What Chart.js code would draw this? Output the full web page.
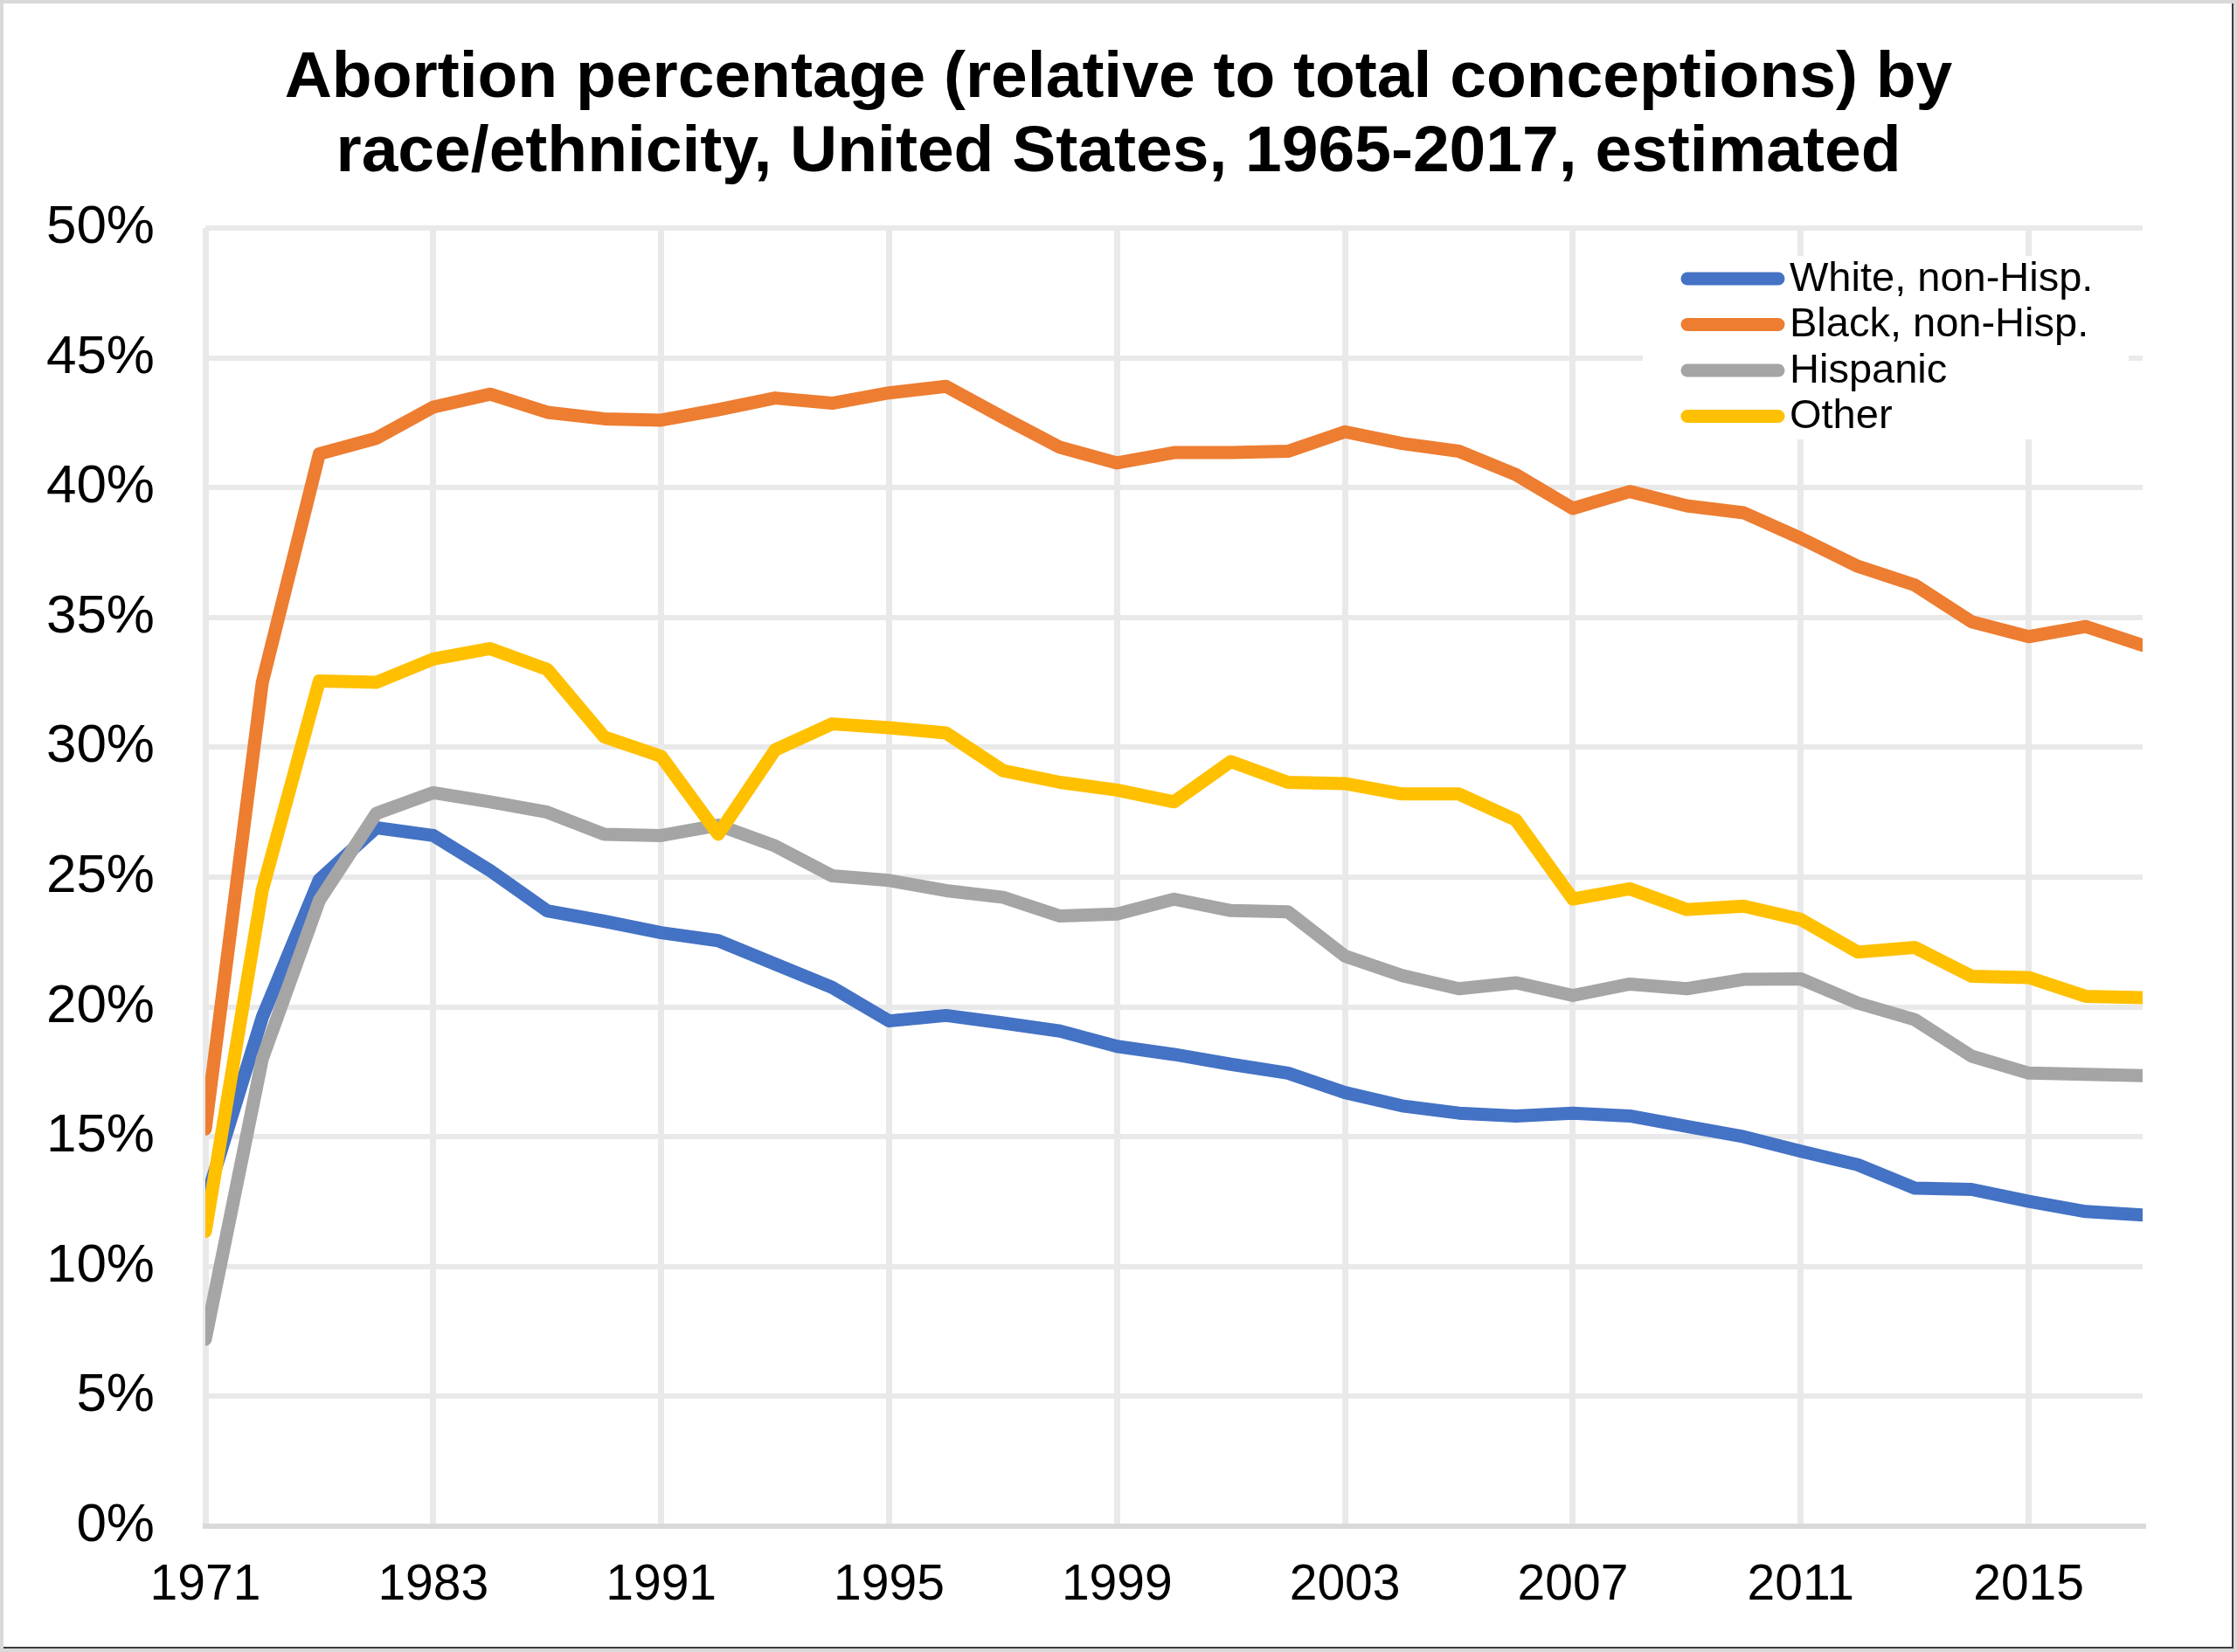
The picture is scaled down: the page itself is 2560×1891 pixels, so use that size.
<!DOCTYPE html>
<html>
<head>
<meta charset="utf-8">
<script src="https://cdn.jsdelivr.net/npm/chart.js@4"></script>
<style>
  html, body { margin: 0; padding: 0; background: #fff; }
  #wrap { position: relative; width: 2560px; height: 1891px; }
  #wrap::after {
    content: ''; position: absolute; inset: 0; box-sizing: border-box;
    border: 4px solid #d9d9d9;
    box-shadow: inset -2px -2px 0 #3c3c3c;
    pointer-events: none;
  }
  canvas { display: block; }
</style>
</head>
<body>
<div id="wrap"><canvas id="chart" width="2560" height="1891"></canvas></div>
<script>
'use strict';

/* --------------------------------------------------------------------------
   DATA — abortion % of total conceptions
   -------------------------------------------------------------------------- */
const YEARS = [
  '1971', '1974', '1977', '1980', '1983', '1985', '1987', '1989',
  '1991', '1992', '1993', '1994', '1995', '1996', '1997', '1998',
  '1999', '2000', '2001', '2002', '2003', '2004', '2005', '2006',
  '2007', '2008', '2009', '2010', '2011', '2012', '2013', '2014',
  '2015', '2016', '2017',
];

const WHITE = [
  12.5, 19.6, 24.9, 26.9, 26.6, 25.25, 23.7, 23.3, 22.86,
  22.55, 21.65, 20.75, 19.46, 19.67, 19.38, 19.07, 18.48, 18.17,
  17.79, 17.45, 16.7, 16.19, 15.91, 15.8, 15.91, 15.8, 15.4,
  15.0, 14.44, 13.92, 13.02, 12.97, 12.51, 12.12, 11.99,
];
const BLACK = [
  15.3, 32.5, 41.3, 41.9, 43.1, 43.6, 42.9, 42.65, 42.6,
  43.0, 43.45, 43.25, 43.65, 43.9, 42.7, 41.55, 40.95, 41.35,
  41.35, 41.4, 42.15, 41.7, 41.4, 40.5, 39.2, 39.85, 39.3,
  39.03, 38.05, 36.97, 36.25, 34.83, 34.26, 34.65, 33.93,
];
const HISPANIC = [
  7.2, 18.0, 24.1, 27.45, 28.25, 27.9, 27.5, 26.65, 26.6,
  27.0, 26.2, 25.05, 24.87, 24.48, 24.22, 23.5, 23.58, 24.15,
  23.71, 23.66, 21.96, 21.21, 20.7, 20.93, 20.44, 20.88, 20.7,
  21.06, 21.08, 20.15, 19.51, 18.1, 17.45, 17.4, 17.35,
];
const OTHER = [
  11.35, 24.5, 32.55, 32.5, 33.4, 33.8, 33.0, 30.4, 29.65,
  26.65, 29.9, 30.9, 30.75, 30.55, 29.1, 28.65, 28.35, 27.9,
  29.45, 28.65, 28.6, 28.2, 28.2, 27.2, 24.15, 24.55, 23.75,
  23.88, 23.37, 22.11, 22.29, 21.18, 21.13, 20.41, 20.36,
];

const SERIES_LABELS = ['White, non-Hisp.', 'Black, non-Hisp.', 'Hispanic', 'Other'];
const TITLE_LINES = [
  'Abortion percentage (relative to total conceptions) by',
  'race/ethnicity, United States, 1965-2017, estimated',
];

const COLORS = { blue: '#4472C4', orange: '#ED7D31', gray: '#A5A5A5', gold: '#FFC000' };
const FONT = "'Liberation Sans', Arial, sans-serif";
const GRID = '#e9e9e9';

/* --------------------------------------------------------------------------
   LEGEND — drawn inside the plot, top right, over a white box
   -------------------------------------------------------------------------- */
const insideLegend = {
    id: 'insideLegend',
    afterDatasetsDraw(chart) {
        const { ctx, chartArea } = chart;
        const left = chartArea.right - 572;
        const top = chartArea.top + 32;

        ctx.save();
        ctx.fillStyle = '#fff';
        ctx.fillRect(left, top, 556, 210);

        ctx.font = `47px ${FONT}`;
        ctx.textBaseline = 'middle';
        ctx.textAlign = 'left';
        ctx.lineCap = 'round';
        ctx.lineWidth = 15;
        chart.data.datasets.forEach((ds, i) => {
            const y = top + 26 + i * 52.5;
            ctx.strokeStyle = ds.borderColor;
            ctx.beginPath();
            ctx.moveTo(left + 51, y);
            ctx.lineTo(left + 155, y);
            ctx.stroke();
            ctx.fillStyle = '#000';
            ctx.fillText(ds.label, left + 168, y + 1);
        });
        ctx.restore();
    },
};

/* --------------------------------------------------------------------------
   CHART
   -------------------------------------------------------------------------- */
function lineSet(label, data, color, order) {
    return {
        label, data, order,
        borderColor: color, backgroundColor: color,
        borderWidth: 15, borderCapStyle: 'round', borderJoinStyle: 'round',
        pointRadius: 0, tension: 0, fill: false, clip: 0,
    };
}

new Chart(document.getElementById('chart').getContext('2d'), {
    type: 'line',
    data: {
        labels: YEARS,
        datasets: [
            lineSet(SERIES_LABELS[0], WHITE, COLORS.blue, 3),
            lineSet(SERIES_LABELS[1], BLACK, COLORS.orange, 2),
            lineSet(SERIES_LABELS[2], HISPANIC, COLORS.gray, 1),
            lineSet(SERIES_LABELS[3], OTHER, COLORS.gold, 0),
        ],
    },
    plugins: [insideLegend],
    options: {
        responsive: false, animation: false, devicePixelRatio: 1,
        layout: { padding: 0 },
        plugins: {
            legend: { display: false },
            tooltip: { enabled: false },
            title: {
                display: true, text: TITLE_LINES, color: '#000',
                font: { family: FONT, size: 75, weight: 'bold', lineHeight: 1.133 },
                padding: { top: 48, bottom: 43 },
            },
        },
        scales: {
            x: {
                offset: false,
                afterFit: s => { s.height = 144; },
                grid: {
                    drawTicks: false, lineWidth: 7,
                    color: c => (c.index % 4 === 0 ? GRID : 'transparent'),
                },
                border: { color: '#d9d9d9', width: 6 },
                ticks: {
                    autoSkip: false, maxRotation: 0, padding: 34, color: '#000',
                    font: { family: FONT, size: 57 },
                    callback: function (v, i) { return i % 4 === 0 ? this.getLabelForValue(v) : ''; },
                },
            },
            y: {
                min: 0, max: 50,
                afterFit: s => { s.width = 235; },
                grid: { drawTicks: false, lineWidth: 6, color: GRID },
                border: { display: false },
                ticks: {
                    stepSize: 5, padding: 58, color: '#000',
                    font: { family: FONT, size: 62 },
                    callback: v => v + '%',
                },
            },
            // empty right-hand margin, keeps the title centred on the canvas
            yRight: {
                position: 'right',
                afterFit: s => { s.width = 108; },
                grid: { display: false },
                border: { display: false },
                ticks: { display: false },
            },
        },
    },
});
</script>
</body>
</html>
